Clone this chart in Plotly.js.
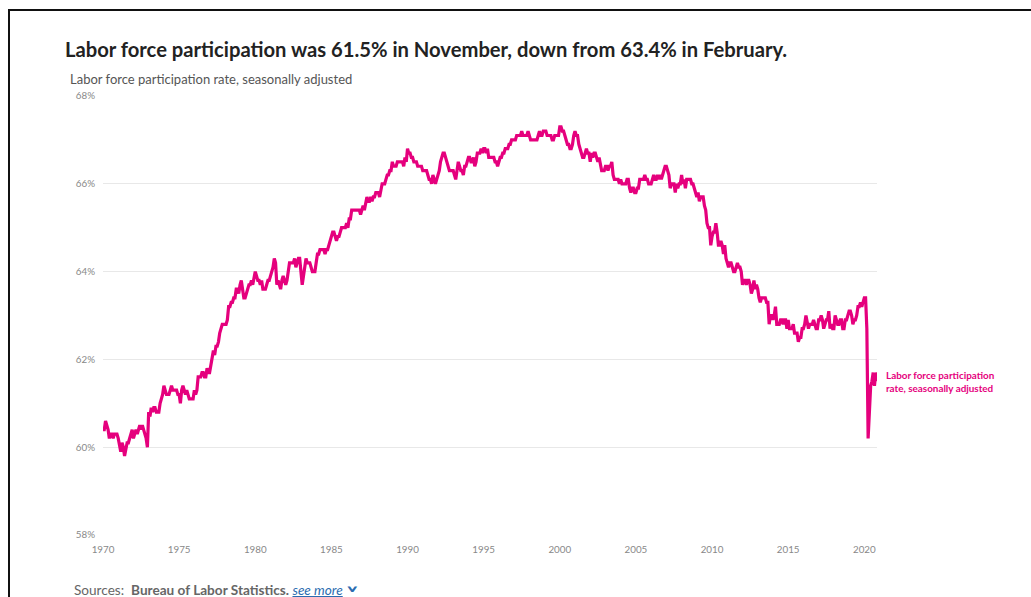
<!DOCTYPE html>
<html>
<head>
<meta charset="utf-8">
<script src="https://cdn.plot.ly/plotly-3.0.1.min.js"></script>
<style>
html,body{margin:0;padding:0;background:#fff;overflow:hidden;}
#frame{position:absolute;left:8px;top:9px;width:1200px;height:800px;border-top:2px solid #111;border-left:2px solid #111;}
#chart{position:absolute;left:0;top:0;width:1031px;height:597px;}
</style>
</head>
<body>
<div id="frame"></div>
<div id="chart"></div>
<script>
// Monthly labor force participation rate (%), seasonally adjusted, Jan 1970 - Nov 2020
const startYear = 1970;
const y1970 = [60.4,60.4,60.6,60.5,60.4,60.2,60.3,60.3,60.2,60.3,60.3,60.3];
const y1971 = [60.2,60.0,59.9,60.1,60.0,59.8,60.0,60.1,60.1,60.2,60.3,60.4];
const y1972 = [60.2,60.3,60.4,60.3,60.4,60.5,60.4,60.5,60.4,60.3,60.2,60.0];
const y1973 = [60.8,60.7,60.9,60.8,60.9,60.9,60.8,60.8,60.8,61.0,61.1,61.2];
const y1974 = [61.4,61.3,61.2,61.2,61.2,61.3,61.4,61.3,61.3,61.3,61.3,61.2];
const y1975 = [61.2,61.0,61.3,61.4,61.3,61.2,61.3,61.2,61.1,61.1,61.1,61.1];
const y1976 = [61.3,61.2,61.3,61.6,61.6,61.6,61.7,61.7,61.6,61.6,61.8,61.7];
const y1977 = [61.7,61.9,62.0,62.2,62.1,62.3,62.3,62.4,62.6,62.7,62.8,62.8];
const y1978 = [62.8,62.8,62.9,63.2,63.2,63.3,63.3,63.4,63.4,63.6,63.6,63.5];
const y1979 = [63.7,63.8,63.6,63.4,63.4,63.5,63.6,63.7,63.7,63.8,63.7,63.9];
const y1980 = [64.0,63.9,63.8,63.8,63.7,63.8,63.6,63.6,63.6,63.7,63.8,63.8];
const y1981 = [63.9,64.0,64.1,64.3,64.2,63.7,63.8,63.7,63.6,63.8,63.9,63.8];
const y1982 = [63.7,63.8,64.0,64.2,64.2,64.2,64.2,64.3,64.1,64.2,64.3,64.3];
const y1983 = [63.9,63.7,63.9,64.1,64.3,64.2,64.2,64.2,64.1,64.0,64.0,64.0];
const y1984 = [64.2,64.4,64.4,64.5,64.5,64.5,64.5,64.4,64.5,64.5,64.6,64.7];
const y1985 = [64.8,64.9,64.9,64.8,64.7,64.8,64.8,64.9,65.0,65.0,65.0,65.0];
const y1986 = [65.1,65.0,65.2,65.2,65.4,65.4,65.4,65.4,65.4,65.4,65.4,65.3];
const y1987 = [65.4,65.5,65.4,65.6,65.7,65.6,65.6,65.7,65.6,65.7,65.7,65.8];
const y1988 = [65.8,65.8,65.7,65.9,66.0,66.0,66.0,66.1,66.2,66.2,66.3,66.3];
const y1989 = [66.5,66.4,66.4,66.4,66.5,66.5,66.5,66.5,66.5,66.4,66.6,66.5];
const y1990 = [66.8,66.7,66.7,66.6,66.6,66.5,66.5,66.5,66.4,66.4,66.4,66.4];
const y1991 = [66.3,66.3,66.3,66.3,66.2,66.1,66.1,66.0,66.2,66.1,66.0,66.1];
const y1992 = [66.2,66.3,66.5,66.6,66.7,66.7,66.6,66.5,66.4,66.3,66.3,66.3];
const y1993 = [66.3,66.2,66.1,66.3,66.5,66.4,66.3,66.3,66.2,66.4,66.4,66.5];
const y1994 = [66.6,66.6,66.5,66.5,66.6,66.4,66.5,66.7,66.7,66.7,66.8,66.7];
const y1995 = [66.8,66.8,66.7,66.8,66.6,66.6,66.6,66.6,66.6,66.5,66.5,66.4];
const y1996 = [66.5,66.6,66.6,66.7,66.7,66.8,66.8,66.8,66.9,66.9,67.0,67.0];
const y1997 = [67.0,67.0,67.1,67.1,67.1,67.1,67.2,67.1,67.1,67.1,67.1,67.2];
const y1998 = [67.1,67.0,67.0,67.0,67.0,67.0,67.0,67.1,67.2,67.1,67.1,67.2];
const y1999 = [67.2,67.2,67.1,67.1,67.1,67.1,67.0,67.0,67.1,67.1,67.1,67.1];
const y2000 = [67.3,67.3,67.2,67.2,67.1,67.0,66.9,66.9,66.8,66.8,66.9,67.1];
const y2001 = [67.2,67.1,67.1,66.9,66.8,66.7,66.6,66.6,66.7,66.8,66.7,66.7];
const y2002 = [66.5,66.7,66.6,66.7,66.7,66.6,66.5,66.6,66.4,66.3,66.3,66.3];
const y2003 = [66.4,66.4,66.3,66.4,66.4,66.5,66.2,66.1,66.1,66.1,66.1,66.0];
const y2004 = [66.1,66.0,66.0,66.0,66.0,66.1,66.1,65.9,65.8,65.9,65.9,65.8];
const y2005 = [65.8,65.9,65.9,66.1,66.1,66.1,66.1,66.2,66.1,66.1,66.0,66.0];
const y2006 = [66.0,66.1,66.2,66.1,66.1,66.2,66.1,66.2,66.1,66.2,66.3,66.4];
const y2007 = [66.4,66.3,66.2,65.9,66.0,66.0,66.0,65.8,66.0,65.9,66.0,66.0];
const y2008 = [66.2,66.0,66.1,65.9,66.1,66.1,66.1,66.1,66.0,66.0,65.9,65.8];
const y2009 = [65.7,65.8,65.6,65.7,65.7,65.7,65.5,65.4,65.1,65.0,65.0,64.6];
const y2010 = [64.8,64.9,64.9,65.1,64.9,64.6,64.6,64.7,64.6,64.4,64.6,64.3];
const y2011 = [64.2,64.1,64.2,64.2,64.1,64.0,64.0,64.1,64.2,64.1,64.1,64.0];
const y2012 = [63.7,63.8,63.8,63.7,63.8,63.8,63.7,63.5,63.6,63.8,63.6,63.7];
const y2013 = [63.6,63.4,63.3,63.4,63.4,63.4,63.4,63.3,63.3,62.8,63.0,63.0];
const y2014 = [62.9,63.0,63.2,62.8,62.8,62.8,62.9,62.9,62.8,62.9,62.9,62.7];
const y2015 = [62.9,62.7,62.7,62.7,62.8,62.6,62.6,62.6,62.4,62.5,62.5,62.7];
const y2016 = [62.7,62.8,63.0,62.8,62.7,62.8,62.8,62.8,62.9,62.8,62.7,62.7];
const y2017 = [62.9,62.9,63.0,62.9,62.7,62.8,62.9,62.9,63.1,62.7,62.8,62.7];
const y2018 = [62.7,63.0,62.9,62.8,62.8,62.9,62.9,62.7,62.7,62.9,62.9,63.0];
const y2019 = [63.1,63.1,63.0,62.8,62.9,62.9,63.0,63.2,63.2,63.3,63.2,63.3];
const y2020 = [63.4,63.4,62.7,60.2,60.8,61.4,61.5,61.7,61.4,61.7,61.5];

const years = [y1970,y1971,y1972,y1973,y1974,y1975,y1976,y1977,y1978,y1979,
  y1980,y1981,y1982,y1983,y1984,y1985,y1986,y1987,y1988,y1989,
  y1990,y1991,y1992,y1993,y1994,y1995,y1996,y1997,y1998,y1999,
  y2000,y2001,y2002,y2003,y2004,y2005,y2006,y2007,y2008,y2009,
  y2010,y2011,y2012,y2013,y2014,y2015,y2016,y2017,y2018,y2019,y2020];

const xTicks = [1970,1975,1980,1985,1990,1995,2000,2005,2010,2015,2020];
const yTicks = [58,60,62,64,66,68];
const yTickText = ['58%','60%','62%','64%','66%','68%'];

const titleText = 'Labor force participation was 61.5% in November, down from 63.4% in February.';
const subtitleText = 'Labor force participation rate, seasonally adjusted';
const seriesName = 'Labor force participation<br>rate, seasonally adjusted';

const xs = [], ys = [];
years.forEach((arr, i) => arr.forEach((v, m) => { xs.push(startYear + i + m/12); ys.push(v); }));

const pink = '#e5007d';
const font = 'Lato, "Open Sans", sans-serif';

const trace = {
  x: xs, y: ys, type: 'scatter', mode: 'lines',
  line: {color: pink, width: 3.2, shape: 'linear'},
  hoverinfo: 'skip', showlegend: false
};

const layout = {
  width: 1031, height: 597,
  margin: {l: 103, r: 154, t: 96, b: 62},
  paper_bgcolor: 'rgba(0,0,0,0)', plot_bgcolor: 'rgba(0,0,0,0)',
  font: {family: font},
  title: {text: '<b>' + titleText + '</b>', xref: 'container', yref: 'container',
    x: 65/1031, xanchor: 'left', y: 1 - 50/597, yanchor: 'middle',
    font: {family: font, size: 20.2, color: '#222'}},
  xaxis: {range: [1970, 2020 + 10/12], tickvals: xTicks, ticktext: xTicks.map(String),
    showgrid: false, zeroline: false, showline: false, ticks: '',
    tickfont: {size: 9.8, color: '#888', family: font}, ticklabelstandoff: 7},
  yaxis: {range: [58, 68], tickvals: yTicks, ticktext: yTickText,
    showgrid: true, gridcolor: '#e8e8e8', gridwidth: 1, zeroline: false, showline: false, ticks: '',
    tickfont: {size: 9.8, color: '#888', family: font}, ticklabelstandoff: 7},
  annotations: [
    {text: subtitleText, xref: 'paper', yref: 'paper', x: (68-103)/774, y: (535-79)/439,
      xanchor: 'left', yanchor: 'middle', showarrow: false,
      font: {size: 13, color: '#555', family: font}},
    {text: '<b>' + seriesName + '</b>', xref: 'x', yref: 'y', x: xs[xs.length-1], y: ys[ys.length-1],
      xanchor: 'left', yanchor: 'middle', xshift: 7, align: 'left', showarrow: false,
      font: {size: 9.9, color: pink, family: font}},
    {text: 'Sources:  <b>Bureau of Labor Statistics.</b> <span style="color:#2b6cb0"><i><u>see more</u></i></span>',
      xref: 'paper', yref: 'paper', x: (72-103)/774, y: (535-590)/439,
      xanchor: 'left', yanchor: 'middle', showarrow: false,
      font: {size: 13.6, color: '#666', family: font}},
    {text: '<b>›</b>', xref: 'paper', yref: 'paper', x: (353.5-103)/774, y: (535-589)/439,
      xanchor: 'center', yanchor: 'middle', textangle: 90, showarrow: false,
      font: {size: 22, color: '#2b6cb0', family: '"DejaVu Sans", sans-serif'}}
  ]
};

Plotly.newPlot('chart', [trace], layout, {displayModeBar: false, staticPlot: true});
</script>
</body>
</html>
